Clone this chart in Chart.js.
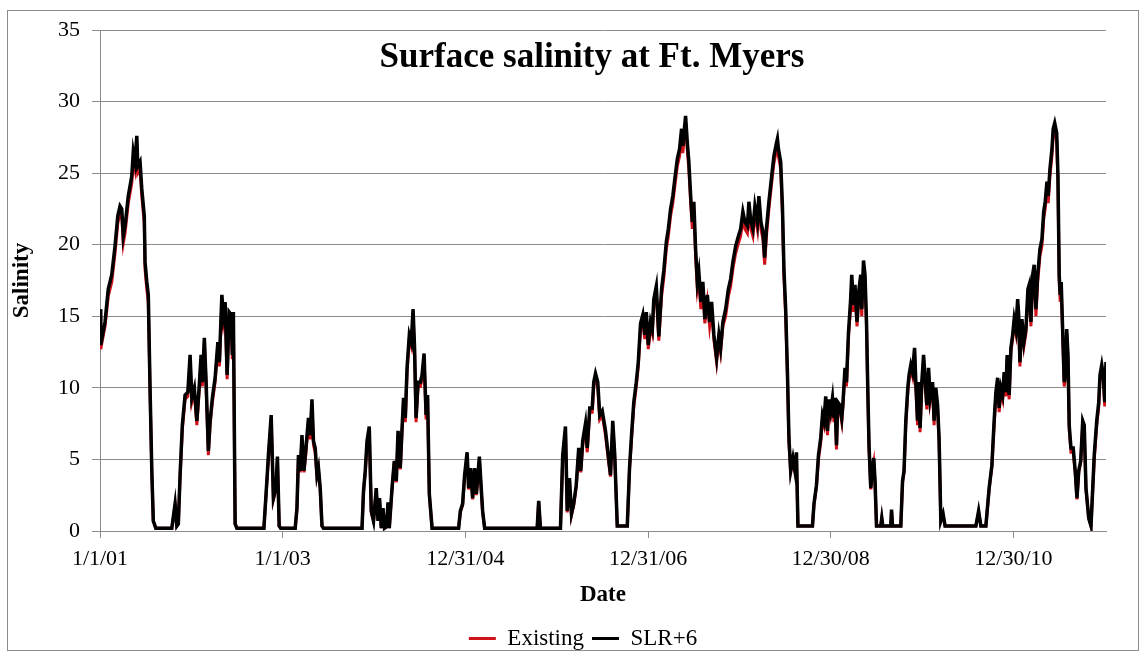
<!DOCTYPE html>
<html>
<head>
<meta charset="utf-8">
<title>Surface salinity at Ft. Myers</title>
<script src="https://cdn.jsdelivr.net/npm/chart.js"></script>
<style>
  html, body { margin: 0; padding: 0; background: #fff; }
  #wrap { position: relative; width: 1146px; height: 660px; }
</style>
</head>
<body>
<div id="wrap"><canvas id="salinityChart"></canvas></div>
<script>
// days since 1/1/01
const days = [
  0,3,6,20,33,47,60,71,80,87,93,100,113,127,133,140,147,151,160,167,177,180,187,193,200,207,213,223,287,300,307,313,
  320,329,340,351,360,367,377,387,396,404,409,417,424,433,440,449,460,471,477,487,493,500,508,516,524,529,533,540,547,
  655,665,673,684,693,703,709,716,722,780,787,793,800,807,815,823,833,840,847,853,860,867,873,880,887,893,
  1047,1053,1060,1067,1076,1084,1093,1104,1111,1117,1124,1131,1137,1145,1151,1156,1167,1176,1184,1191,1200,1207,1213,1220,1227,1236,1244,1251,1257,1263,1271,1280,1287,1295,1303,1309,1316,1327,
  1433,1440,1449,1457,1467,1473,1481,1489,1497,1504,1516,1524,1529,1537,1747,1753,1760,1840,1849,1860,1867,1876,1884,1893,1903,1913,1921,1929,1940,1947,1957,1967,1973,1980,1989,1997,2007,
  2020,2031,2040,2049,2057,2067,2107,2116,2124,2133,2143,2151,2160,2169,2177,2183,2191,2200,2207,2213,2223,2233,2244,2253,2263,2271,2280,2289,2297,2307,2316,2324,2329,2340,2347,2353,2361,2367,2373,2380,
  2387,2393,2401,2409,2417,2427,2436,2444,2453,2464,2473,2480,2489,2500,2511,2520,2529,2540,2551,2560,2569,2577,2587,2593,2601,2609,2617,2627,2633,2641,2649,2656,2663,2673,2684,2693,2703,2707,2711,2720,
  2727,2733,2740,2747,2753,2760,2769,2777,2783,2789,2847,2853,2863,2871,2880,2887,2893,2900,2907,2913,2920,2927,2933,2937,2943,2948,2956,2964,2969,2977,2983,2991,2999,3004,3011,3017,3025,3033,3040,3044,3051,3057,3063,3068,3073,3080,3087,3092,3097,3103,
  3120,3124,3128,3160,3163,3167,3200,3207,3213,3220,3228,3233,3240,3247,3255,3260,3267,3271,3277,3284,3291,3297,3304,3311,3317,3327,3333,3340,3347,3353,3360,3369,3377,
  3500,3507,3511,3520,3540,3553,3564,3573,3580,3587,3593,3600,3607,3613,3620,3625,3633,3640,3647,3653,3660,3667,3671,3676,3684,3692,3700,3708,3713,3720,3727,3733,3740,3747,3756,3764,3771,3777,3784,3789,3796,3804,3809,3815,3823,
  3828,3833,3837,3841,3847,3853,3857,3863,3868,3873,3880,3889,3897,3904,3911,3919,3927,3933,3940,3951,3960,3967,3973,3983,3991,3996,4003,4009,4015,4020
];

const slr6 = [
  15.5,13.0,13.3,14.6,16.9,17.9,19.9,22.0,22.7,22.5,20.6,21.3,23.4,24.8,26.5,25.8,27.6,25.5,25.8,23.9,22.0,18.8,17.4,16.5,10.0,4.2,0.7,0.2,0.2,1.9,0.35,0.5,
  3.9,7.4,9.5,9.7,12.3,9.3,10.0,7.7,10.0,12.3,10.4,13.5,10.4,5.6,7.7,9.3,10.7,13.2,11.8,16.5,15.1,16.0,10.9,15.3,15.1,12.3,15.3,0.5,0.2,
  0.2,3.0,5.3,8.1,2.3,3.0,5.2,0.35,0.2,0.2,1.6,5.3,4.2,6.7,4.2,5.8,7.9,6.7,9.2,6.3,5.8,3.9,4.4,3.0,0.35,0.2,
  0.2,2.8,4.2,6.3,7.3,1.4,0.7,3.0,0.7,2.3,0.2,1.6,0.2,0.3,2.0,0.2,3.0,4.9,3.5,7.0,4.4,7.2,9.3,7.9,11.4,13.7,13.2,15.5,12.8,7.9,10.4,10.4,10.9,12.4,8.1,9.5,2.6,0.2,
  0.2,1.4,1.9,3.9,5.5,3.0,4.4,2.3,4.4,2.6,5.2,2.8,1.4,0.2,0.2,2.1,0.2,0.2,5.3,7.3,1.4,3.7,1.2,1.9,3.2,5.8,4.2,6.3,7.5,5.8,8.6,8.6,10.4,11.0,10.4,8.1,8.4,
  7.0,5.3,3.9,7.7,5.3,0.35,0.35,4.4,6.7,9.0,10.4,11.8,14.5,15.1,13.7,15.3,13.0,14.6,14.1,16.2,17.1,13.6,16.9,18.2,20.2,21.1,22.5,23.4,24.6,26.0,26.7,28.1,26.9,29.0,27.1,25.8,23.2,21.6,23.0,19.7,
  17.4,18.1,16.0,17.4,14.8,16.5,14.6,16.0,13.7,12.1,13.7,12.8,14.6,15.5,16.9,17.6,18.8,19.9,20.6,21.1,22.3,21.6,21.3,23.0,21.6,21.1,22.7,21.6,23.4,21.6,20.9,19.1,21.1,23.0,24.8,26.2,27.1,27.4,26.7,25.8,
  22.7,18.3,15.5,11.1,6.5,4.2,5.1,4.2,5.5,0.35,0.35,1.9,3.2,5.3,6.5,8.1,7.7,9.4,7.0,9.2,8.4,9.3,7.9,9.3,6.0,9.0,8.8,7.9,9.0,11.4,10.4,13.9,16.0,17.9,15.8,17.2,14.6,16.9,17.9,15.5,18.9,17.9,14.6,10.0,6.0,3.0,4.4,5.1,3.5,0.35,
  0.35,0.9,0.35,0.35,1.5,0.35,0.35,3.5,4.2,7.7,10.0,10.9,11.6,11.1,12.8,10.4,7.7,10.4,7.2,10.4,12.3,10.7,8.8,11.4,9.3,10.4,7.7,10.0,8.8,6.5,0.7,1.2,0.35,
  0.35,1.0,1.4,0.35,0.35,3.0,4.6,7.7,9.7,10.7,8.6,10.0,9.5,11.1,9.7,12.3,9.5,12.8,13.7,14.8,14.1,16.2,15.1,11.8,14.8,13.2,14.1,16.9,17.2,14.6,17.9,18.6,15.5,17.9,19.7,20.4,22.3,23.0,24.4,23.4,25.3,26.7,28.1,28.5,27.8,
  24.8,17.9,16.5,17.4,13.9,10.4,10.9,14.1,12.3,7.4,5.8,5.8,4.2,2.3,4.2,4.9,7.7,7.4,3.0,0.9,0.35,3.0,5.3,7.7,9.0,10.9,11.6,10.9,9.0,11.8
];

const existing = [
  15.0,12.7,13.0,14.3,16.4,17.4,19.4,21.5,22.2,22.0,20.1,20.8,22.9,24.3,26.0,25.3,27.1,25.0,25.3,23.4,21.5,18.3,16.9,16.0,9.7,4.1,0.7,0.2,0.2,1.8,0.35,0.5,
  3.8,7.1,9.2,9.4,12.0,9.0,9.7,7.4,9.7,12.0,10.1,13.2,10.1,5.3,7.4,9.0,10.4,12.9,11.5,16.0,14.6,15.5,10.6,14.8,14.6,12.0,14.8,0.5,0.2,
  0.2,2.9,5.0,7.8,2.2,2.9,4.9,0.35,0.2,0.2,1.5,5.0,4.1,6.4,4.1,5.5,7.6,6.4,8.9,6.0,5.5,3.8,4.3,2.9,0.35,0.2,
  0.2,2.7,4.1,6.0,7.0,1.3,0.7,2.9,0.7,2.2,0.2,1.5,0.2,0.3,1.9,0.2,2.9,4.8,3.4,6.7,4.3,6.9,9.0,7.6,11.1,13.4,12.9,15.0,12.5,7.6,10.1,10.1,10.6,12.1,7.8,9.2,2.5,0.2,
  0.2,1.3,1.8,3.8,5.2,2.9,4.3,2.2,4.3,2.5,4.9,2.7,1.3,0.2,0.2,2.0,0.2,0.2,5.0,7.0,1.3,3.6,1.1,1.8,3.1,5.5,4.1,6.0,7.2,5.5,8.3,8.3,10.1,10.7,10.1,7.8,8.1,
  6.7,5.0,3.8,7.4,5.0,0.35,0.35,4.3,6.4,8.7,10.1,11.5,14.2,14.6,13.4,14.8,12.7,14.3,13.8,15.7,16.6,13.3,16.4,17.7,19.7,20.6,22.0,22.9,24.1,25.5,26.2,27.6,26.4,28.5,26.6,25.3,22.7,21.1,22.5,19.2,
  16.9,17.6,15.5,16.9,14.5,16.0,14.3,15.5,13.4,11.8,13.4,12.5,14.3,15.0,16.4,17.1,18.3,19.4,20.1,20.6,21.8,21.1,20.8,22.5,21.1,20.6,22.2,21.1,22.9,21.1,20.4,18.6,20.6,22.5,24.3,25.7,26.6,26.9,26.2,25.3,
  22.2,17.8,15.0,10.8,6.2,4.1,4.8,4.1,5.2,0.35,0.35,1.8,3.1,5.0,6.2,7.8,7.4,9.1,6.7,8.9,8.1,9.0,7.6,9.0,5.7,8.7,8.5,7.6,8.7,11.1,10.1,13.6,15.5,17.4,15.3,16.7,14.3,16.4,17.4,15.0,18.4,17.4,14.3,9.7,5.7,2.9,4.3,4.8,3.4,0.35,
  0.35,0.9,0.35,0.35,1.4,0.35,0.35,3.4,4.1,7.4,9.7,10.6,11.3,10.8,12.5,10.1,7.4,10.1,6.9,10.1,12.0,10.4,8.5,11.1,9.0,10.1,7.4,9.7,8.5,6.2,0.7,1.1,0.35,
  0.35,1.0,1.3,0.35,0.35,2.9,4.5,7.4,9.4,10.4,8.3,9.7,9.2,10.8,9.4,12.0,9.2,12.5,13.4,14.5,13.8,15.7,14.6,11.5,14.5,12.9,13.8,16.4,16.7,14.3,17.4,18.1,15.0,17.4,19.2,19.9,21.8,22.5,23.9,22.9,24.8,26.2,27.6,28.0,27.3,
  24.3,17.4,16.0,16.9,13.6,10.1,10.6,13.8,12.0,7.1,5.5,5.5,4.1,2.2,4.1,4.8,7.4,7.1,2.9,0.9,0.35,2.9,5.0,7.4,8.7,10.6,11.3,10.6,8.7,11.5
];

const xTickDays = [0, 730, 1460, 2190, 2920, 3650];
const xTickLabels = ['1/1/01', '1/1/03', '12/31/04', '12/31/06', '12/30/08', '12/30/10'];

const chartTitle = 'Surface salinity at Ft. Myers';
const FONT = '"Liberation Serif", "Times New Roman", serif';

function toPoints(vals) {
  return days.map((d, i) => ({ x: d, y: vals[i] }));
}

// outer frame like the Excel chart area
const framePlugin = {
  id: 'frame',
  beforeDraw(chart) {
    const ctx = chart.ctx;
    ctx.save();
    ctx.fillStyle = '#fff';
    ctx.fillRect(0, 0, chart.width, chart.height);
    ctx.strokeStyle = '#8c8c8c';
    ctx.lineWidth = 1;
    ctx.strokeRect(7.5, 10.5, 1131, 640);
    ctx.restore();
  }
};

// title sits inside the plot area
const innerTitle = {
  id: 'innerTitle',
  afterDraw(chart) {
    const { ctx, chartArea } = chart;
    ctx.save();
    ctx.font = 'bold 35px ' + FONT;
    ctx.fillStyle = '#000';
    ctx.textAlign = 'center';
    ctx.textBaseline = 'alphabetic';
    ctx.fillText(chartTitle, (chartArea.left + chartArea.right) / 2 - 11, chartArea.top + 37);
    ctx.restore();
  }
};

const ctx = document.getElementById('salinityChart').getContext('2d');
new Chart(ctx, {
  type: 'line',
  data: {
    datasets: [
      { label: 'Existing', data: toPoints(existing), borderColor: '#d0121b', backgroundColor: '#d0121b',
        borderWidth: 3, pointRadius: 0, tension: 0, order: 1 },
      { label: 'SLR+6', data: toPoints(slr6), borderColor: '#000', backgroundColor: '#000',
        borderWidth: 3.5, pointRadius: 0, tension: 0, order: 0 }
    ]
  },
  options: {
    responsive: true,
    maintainAspectRatio: false,
    animation: false,
    events: [],
    layout: { padding: { left: 26, right: 6, top: 30, bottom: 0 } },
    plugins: {
      tooltip: { enabled: false },
      legend: {
        position: 'bottom',
        reverse: true,
        labels: {
          color: '#000',
          font: { family: FONT, size: 23 },
          boxWidth: 27,
          boxHeight: 3,
          padding: 8,
          generateLabels(chart) {
            const items = Chart.defaults.plugins.legend.labels.generateLabels(chart);
            items.forEach(it => { it.lineWidth = 0; it.fillStyle = it.strokeStyle; });
            return items;
          }
        }
      }
    },
    scales: {
      x: {
        type: 'linear',
        min: 0,
        max: days[days.length - 1],
        afterBuildTicks(scale) {
          scale.ticks = xTickDays.map(v => ({ value: v }));
        },
        afterFit(scale) { scale.height = 88; },
        ticks: {
          autoSkip: false,
          maxRotation: 0,
          padding: 8,
          color: '#000',
          font: { family: FONT, size: 22 },
          callback(value) {
            const i = xTickDays.indexOf(value);
            return i >= 0 ? xTickLabels[i] : '';
          }
        },
        grid: { drawOnChartArea: false, drawTicks: true, tickLength: 7, color: '#8c8c8c' },
        border: { color: '#8c8c8c' },
        title: { display: true, text: 'Date', color: '#000',
                 font: { family: FONT, size: 23, weight: 'bold' }, padding: { top: 0, bottom: 10 } }
      },
      y: {
        min: 0,
        max: 35,
        afterFit(scale) { scale.width = 74; },
        ticks: { stepSize: 5, padding: 12, color: '#000', font: { family: FONT, size: 22 } },
        grid: { color: '#8c8c8c', tickLength: 8 },
        border: { color: '#8c8c8c' },
        title: { display: true, text: 'Salinity', color: '#000',
                 font: { family: FONT, size: 23, weight: 'bold' }, padding: { top: -18, bottom: 0 } }
      },
      // empty spacer on the right so the plot ends where the original does
      yRight: {
        position: 'right',
        display: true,
        afterFit(scale) { scale.width = 34; },
        ticks: { display: false },
        grid: { display: false, drawTicks: false },
        border: { display: false }
      }
    }
  },
  plugins: [framePlugin, innerTitle]
});
</script>
</body>
</html>
